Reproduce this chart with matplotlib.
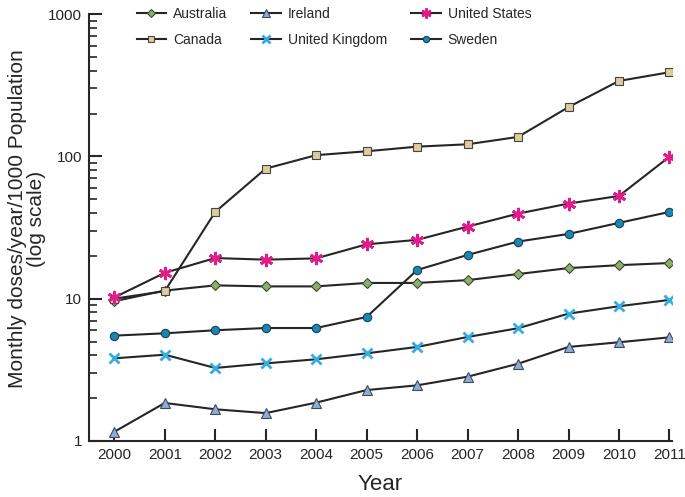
import matplotlib.pyplot as plt
from matplotlib.ticker import LogLocator, FixedLocator, NullFormatter

years = list(range(2000, 2012))

australia = [9.6, 11.4, 12.4, 12.2, 12.2, 12.9, 12.9, 13.5, 14.9, 16.4, 17.2, 17.8]
ireland = [1.16, 1.85, 1.67, 1.57, 1.86, 2.28, 2.46, 2.83, 3.49, 4.58, 4.94, 5.35]
united_states = [10.2, 15.2, 19.3, 18.8, 19.2, 24.1, 25.9, 32.1, 39.6, 46.6, 52.7, 99.5]
canada = [10.0, 11.3, 40.7, 82, 102, 108.6, 117, 121.6, 137, 222, 339, 390]
united_kingdom = [3.81, 4.04, 3.26, 3.51, 3.75, 4.13, 4.58, 5.38, 6.2, 7.85, 8.85, 9.8]
sweden = [5.5, 5.71, 6.0, 6.22, 6.22, 7.44, 15.9, 20.3, 25.2, 28.5, 34.1, 40.7]

plt.rcParams['font.family'] = ['Liberation Sans', 'DejaVu Sans']

fig = plt.figure(figsize=(6.85, 4.97), dpi=100)
ax = fig.add_axes([0.130, 0.1127, 0.851, 0.859])

dark = '#262626'

ax.plot(years, australia, marker='D', markersize=5, markerfacecolor='#8fae6b',
        markeredgecolor='#3a4a30', markeredgewidth=0.8, label='Australia', color=dark, lw=1.5)
ax.plot(years, canada, marker='s', markersize=6, markerfacecolor='#dccba3',
        markeredgecolor='#4a4538', markeredgewidth=0.8, label='Canada', color=dark, lw=1.5)
ax.plot(years, ireland, marker='^', markersize=7.5, markerfacecolor='#8eadd0',
        markeredgecolor='#3b4a5c', markeredgewidth=0.8, label='Ireland', color=dark, lw=1.5)
ax.plot(years, united_kingdom, marker='x', markersize=7.5, markeredgewidth=2,
        markeredgecolor='#35ade0', label='United Kingdom', color=dark, lw=1.5)
ax.plot(years, united_states, marker=(6, 2, 0), markersize=9.5, markeredgewidth=2,
        markeredgecolor='#e01b8a', label='United States', color=dark, lw=1.5)
ax.plot(years, sweden, marker='o', markersize=6, markerfacecolor='#1a86b3',
        markeredgecolor='#1f3f52', markeredgewidth=0.8, label='Sweden', color=dark, lw=1.5)

ax.set_yscale('log')
ax.set_ylim(1, 1000)
ax.set_xlim(1999.5, 2011.05)
ax.set_xticks(years)
ax.yaxis.set_major_locator(FixedLocator([1, 10, 100, 1000]))
ax.set_yticklabels(['1', '10', '100', '1000'])
ax.yaxis.set_minor_locator(LogLocator(base=10, subs=range(2, 10)))
ax.yaxis.set_minor_formatter(NullFormatter())

for s in ['top', 'right']:
    ax.spines[s].set_visible(False)
for s in ['left', 'bottom']:
    ax.spines[s].set_linewidth(1.5)
    ax.spines[s].set_color(dark)

ax.tick_params(axis='both', which='major', direction='in', length=9, width=1.5,
               color=dark, labelcolor=dark)
ax.tick_params(axis='y', which='major', labelsize=11, pad=5)
ax.tick_params(axis='y', which='minor', direction='in', length=6, width=1.2, color=dark)
ax.tick_params(axis='x', labelsize=11, pad=5)

ax.set_xlabel('Year', fontsize=16, color=dark, labelpad=9)
ax.set_ylabel('Monthly doses/year/1000 Population\n(log scale)', fontsize=15,
              color=dark, linespacing=1.05)
ax.yaxis.set_label_coords(-0.073, 0.52)

handles, labels = ax.get_legend_handles_labels()
order = ['Australia', 'Canada', 'Ireland', 'United Kingdom', 'United States', 'Sweden']
hs = [handles[labels.index(n)] for n in order]
ax.legend(hs, order, ncol=3, frameon=False, loc='upper left',
          bbox_to_anchor=(0.06, 1.045), fontsize=10, handlelength=2.15,
          columnspacing=1.7, labelspacing=0.85, handletextpad=0.5,
          markerscale=0.75, labelcolor=dark)

fig.savefig('out.png', dpi=100)
